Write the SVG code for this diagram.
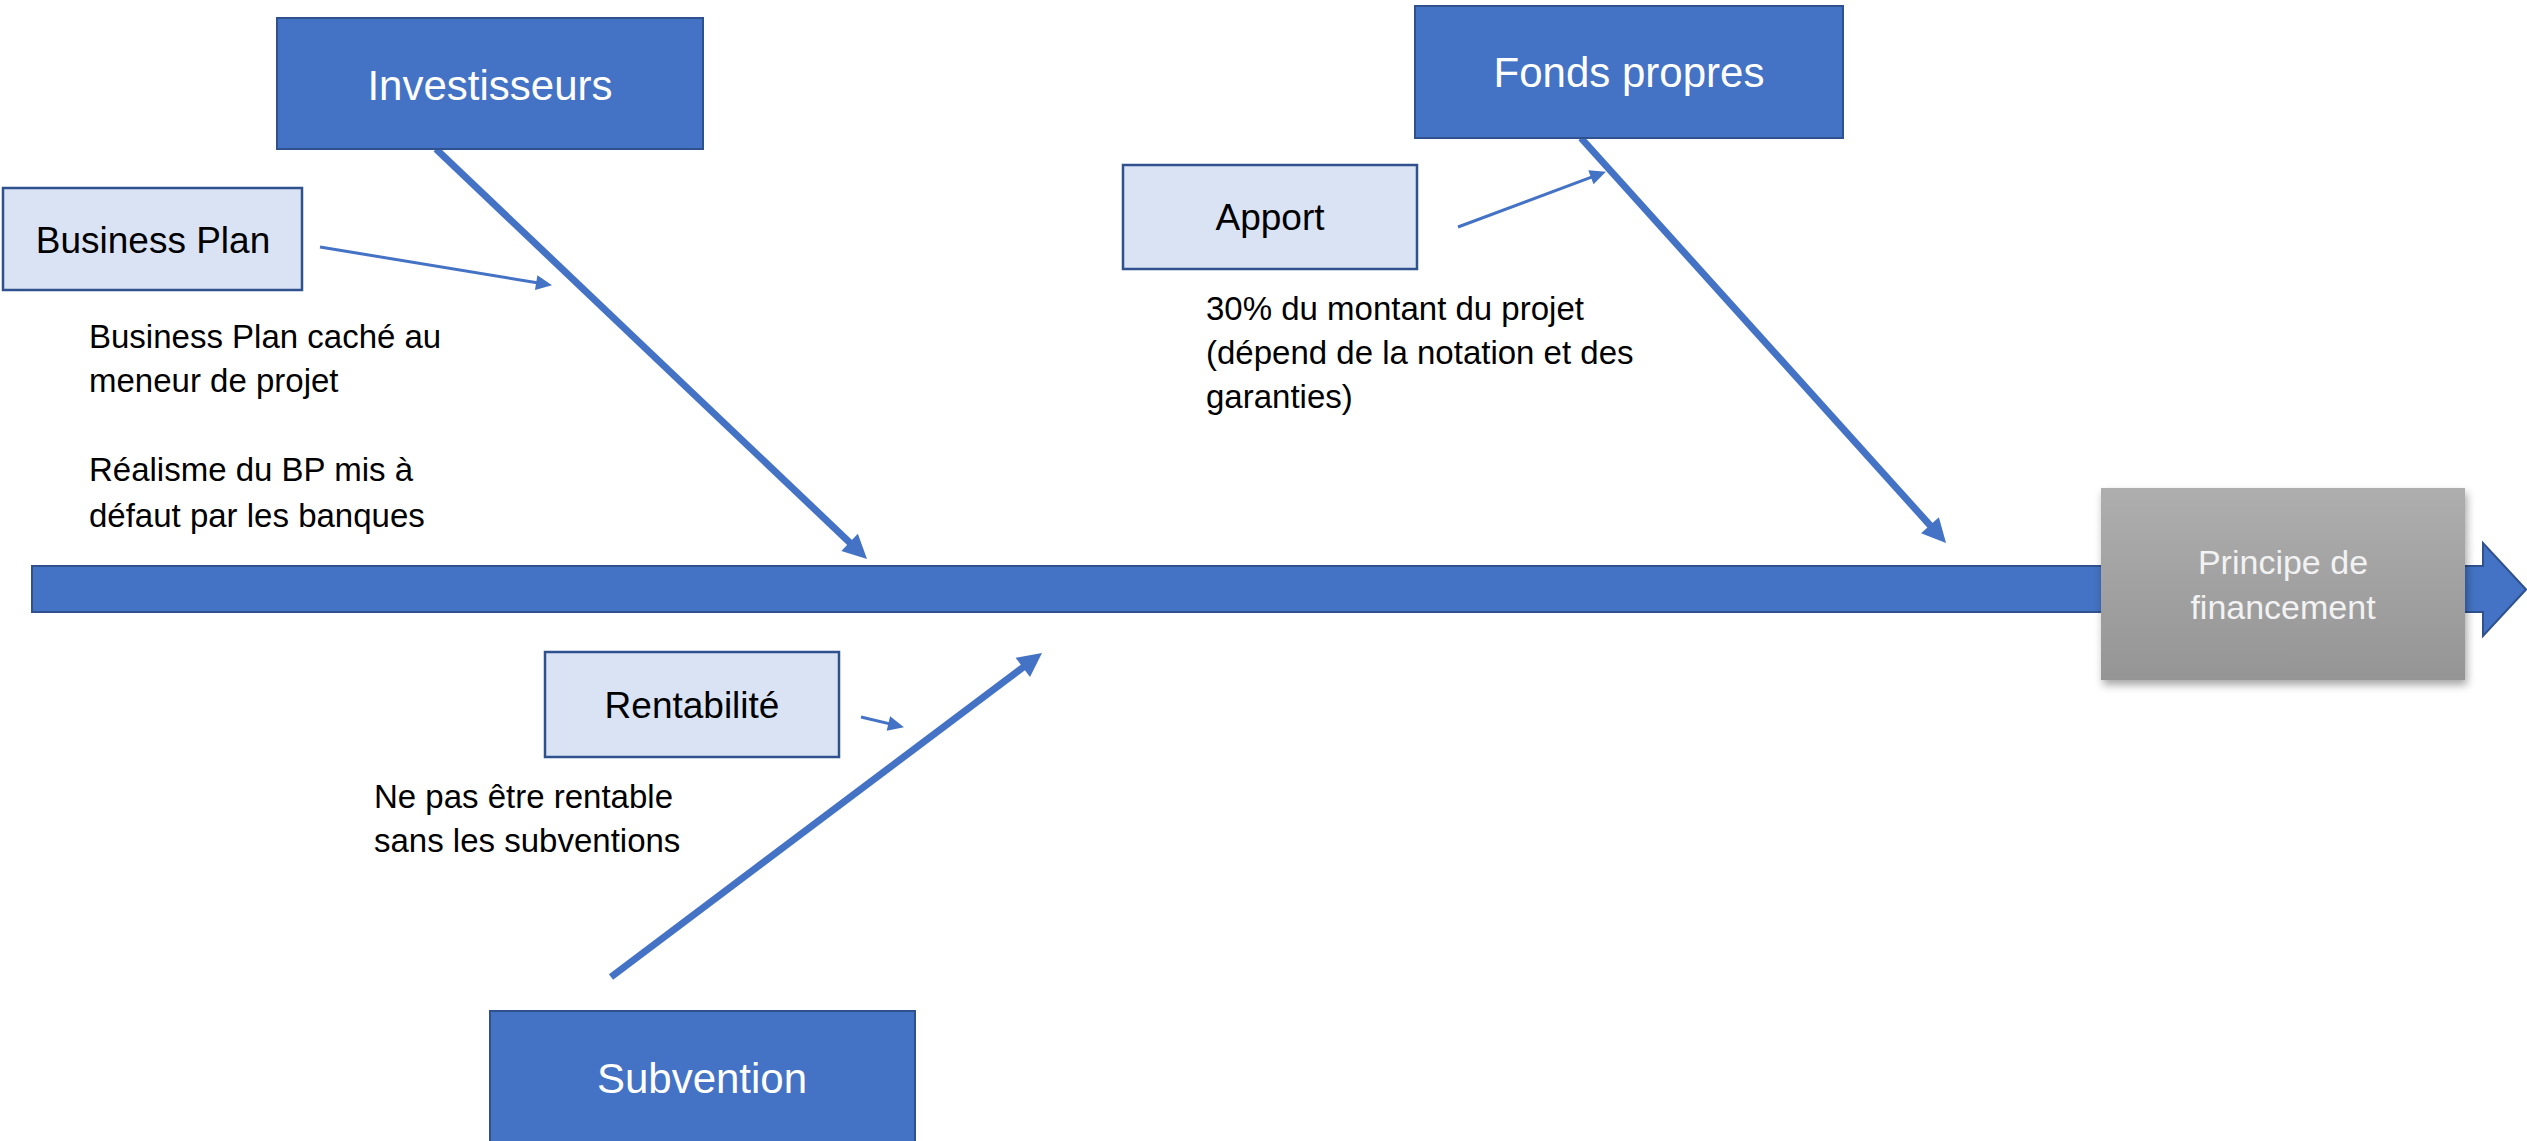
<svg xmlns="http://www.w3.org/2000/svg" width="2527" height="1141" viewBox="0 0 2527 1141">
<style>
.main{fill:#4472C4;stroke:#2F528F;stroke-width:2}
.sub{fill:#DAE3F3;stroke:#2F528F;stroke-width:2.5}
.bone{fill:none;stroke:#4472C4;stroke-width:7}
.thin{fill:none;stroke:#4472C4;stroke-width:3}
text{font-family:"Liberation Sans",Arial,sans-serif}
.mt{fill:#FFFFFF;font-size:42px;text-anchor:middle}
.st{fill:#000000;font-size:37px;text-anchor:middle}
.bt{fill:#000000;font-size:33px}
.pt{fill:#F2F2F2;font-size:34px;text-anchor:middle}
</style>
<defs>
<marker id="big" markerUnits="userSpaceOnUse" markerWidth="26" markerHeight="26" refX="12" refY="12" orient="auto" overflow="visible">
<path d="M0,0 L24,12 L0,24 Z" fill="#4472C4"/>
</marker>
<marker id="small" markerUnits="userSpaceOnUse" markerWidth="18" markerHeight="18" refX="7" refY="7.5" orient="auto" overflow="visible">
<path d="M0,0 L16,7.5 L0,15 Z" fill="#4472C4"/>
</marker>
<linearGradient id="grey" x1="0" y1="0" x2="0" y2="1">
<stop offset="0" stop-color="#AEAEAE"/>
<stop offset="1" stop-color="#959595"/>
</linearGradient>
<filter id="shadow" x="-10%" y="-10%" width="125%" height="130%">
<feDropShadow dx="2" dy="5" stdDeviation="4" flood-color="#000" flood-opacity="0.35"/>
</filter>
</defs>

<g id="spine">
<polygon class="main" points="32,566 2483,566 2483,543 2526,589.5 2483,636 2483,612 32,612"/>
</g>

<g id="connectors">
<line class="bone" x1="436" y1="149" x2="858.3" y2="550.7" marker-end="url(#big)"/>
<line class="bone" x1="1581" y1="138" x2="1938" y2="534.1" marker-end="url(#big)"/>
<line class="bone" x1="611" y1="977" x2="1032.4" y2="660.2" marker-end="url(#big)"/>
<line class="thin" x1="320" y1="247" x2="543.1" y2="283.7" marker-end="url(#small)"/>
<line class="thin" x1="1458" y1="227" x2="1597.5" y2="174.8" marker-end="url(#small)"/>
<line class="thin" x1="861" y1="717" x2="895.2" y2="725.1" marker-end="url(#small)"/>
</g>

<g id="investisseurs">
<rect class="main" x="277" y="18" width="426" height="131"/>
<text class="mt" x="490" y="100">Investisseurs</text>
</g>

<g id="fonds-propres">
<rect class="main" x="1415" y="6" width="428" height="132"/>
<text class="mt" x="1629" y="87">Fonds propres</text>
</g>

<g id="subvention">
<rect class="main" x="490" y="1011" width="425" height="140"/>
<text class="mt" x="702" y="1093">Subvention</text>
</g>

<g id="business-plan">
<rect class="sub" x="3" y="188" width="299" height="102"/>
<text class="st" x="153" y="253">Business Plan</text>
</g>

<g id="apport">
<rect class="sub" x="1123" y="165" width="294" height="104"/>
<text class="st" x="1270" y="230">Apport</text>
</g>

<g id="rentabilite">
<rect class="sub" x="545" y="652" width="294" height="105"/>
<text class="st" x="692" y="718">Rentabilité</text>
</g>

<g id="principe">
<rect x="2101" y="488" width="364" height="192" fill="url(#grey)" filter="url(#shadow)"/>
<text class="pt" x="2283" y="574">Principe de</text>
<text class="pt" x="2283" y="619">financement</text>
</g>

<g id="notes">
<text class="bt" x="89" y="348">Business Plan caché au</text>
<text class="bt" x="89" y="392">meneur de projet</text>
<text class="bt" x="89" y="481">Réalisme du BP mis à</text>
<text class="bt" x="89" y="527">défaut par les banques</text>
<text class="bt" x="1206" y="320">30% du montant du projet</text>
<text class="bt" x="1206" y="364">(dépend de la notation et des</text>
<text class="bt" x="1206" y="408">garanties)</text>
<text class="bt" x="374" y="808">Ne pas être rentable</text>
<text class="bt" x="374" y="852">sans les subventions</text>
</g>
</svg>
